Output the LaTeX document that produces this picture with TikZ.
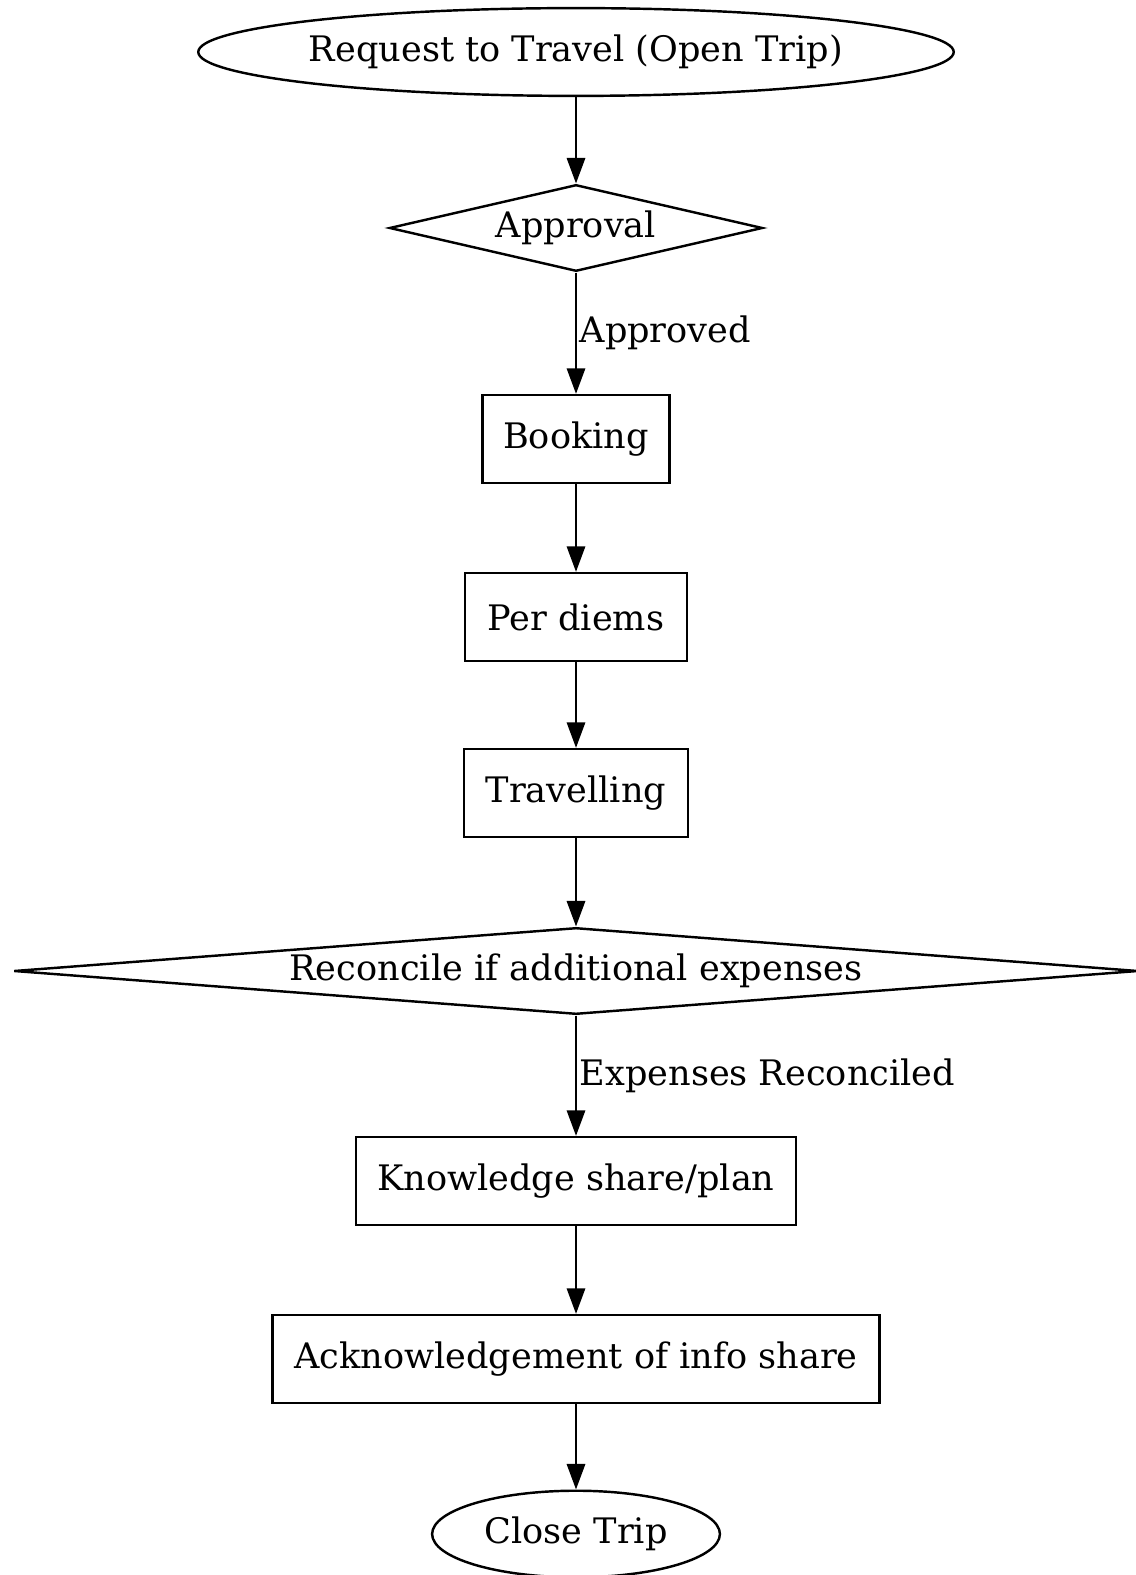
\documentclass[tikz,border=0pt]{standalone}
\usepackage{fontspec}
\setmainfont{DejaVu Serif}
\usetikzlibrary{shapes.geometric,arrows.meta}
\begin{document}
\begin{tikzpicture}[x=0.41pt,y=-0.41pt,
  every node/.style={font=\fontsize{14.4pt}{17pt}\selectfont, inner sep=0pt},
  oval/.style={draw, ellipse, line width=1pt},
  box/.style={draw, rectangle, line width=1pt, minimum height=36pt},
  dia/.style={draw, diamond, line width=1pt, minimum height=35.5pt},
  arr/.style={line width=1pt, -{Triangle[length=10.5pt,width=7.5pt]}},
  lbl/.style={anchor=west, inner sep=1pt}]
\useasboundingbox (0,0) rectangle (1135,1575);
\node[oval, minimum width=307.5pt, minimum height=36pt] (req) at (576,52) {Request to Travel (Open Trip)};
\node[dia, minimum width=153pt, aspect=4.3] (appr) at (576,228) {Approval};
\node[box, minimum width=76.5pt] (book) at (576,439) {Booking};
\node[box, minimum width=91pt] (perd) at (576,617) {Per diems};
\node[box, minimum width=92pt] (trav) at (576,793) {Travelling};
\node[dia, minimum width=461pt, aspect=13] (rec) at (576,971) {Reconcile if additional expenses};
\node[box, minimum width=180.5pt] (know) at (576,1181) {Knowledge share/plan};
\node[box, minimum width=249pt] (ack) at (576,1359) {Acknowledgement of info share};
\node[oval, minimum width=118pt, minimum height=35.5pt] (close) at (576,1534) {Close Trip};
\draw[arr] (req) -- (appr);
\draw[arr] (appr) -- node[lbl] {Approved} (book);
\draw[arr] (book) -- (perd);
\draw[arr] (perd) -- (trav);
\draw[arr] (trav) -- (rec);
\draw[arr] (rec) -- node[lbl] {Expenses Reconciled} (know);
\draw[arr] (know) -- (ack);
\draw[arr] (ack) -- (close);
\end{tikzpicture}
\end{document}
